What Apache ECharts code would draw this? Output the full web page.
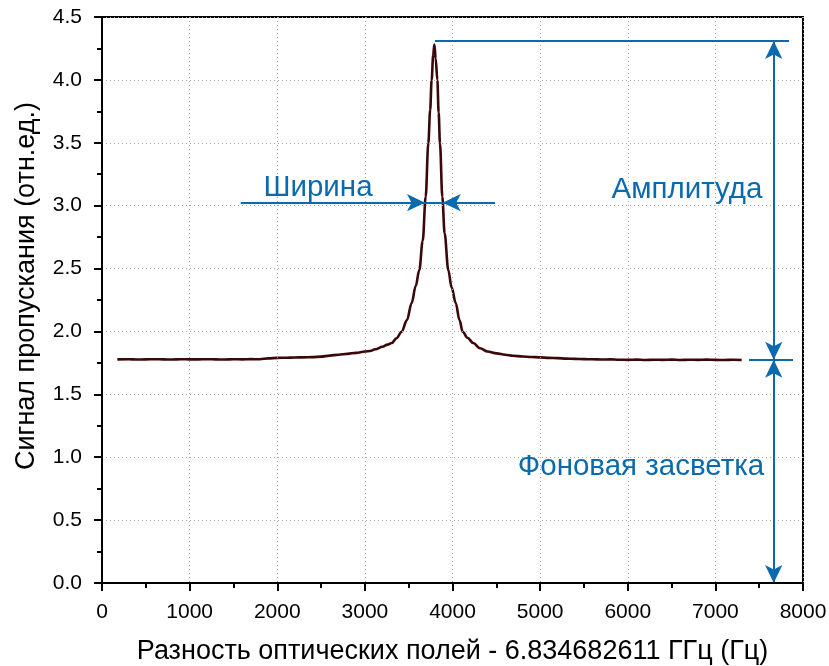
<!DOCTYPE html>
<html>
<head>
<meta charset="utf-8">
<script src="https://cdn.jsdelivr.net/npm/echarts@6/dist/echarts.min.js"></script>
<style>
html,body{margin:0;padding:0;background:#fff;}
#chart{width:829px;height:666px;}
</style>
</head>
<body>
<div id="chart"></div>
<script>
// Frequency offset (Hz) and transmission signal (arb. units)
const freqHz = [175,300,400,500,600,700,800,900,1000,1100,1200,1300,1400,1500,1600,1700,1800,1900,2000,2100,2200,2300,2400,2500,2600,2700,2800,2900,3000,3060,3120,3200,3260,3306,3360,3420,3480,3534,3580,3621,3660,3694,3724,3745,3762,3780,3793,3808,3827,3842,3857,3884,3910,3952,3990,4037,4080,4116,4170,4237,4314,4400,4504,4600,4690,4800,4900,5000,5100,5200,5300,5400,5500,5600,5700,5800,5900,6000,6100,6200,6300,6400,6500,6600,6700,6800,6900,7000,7100,7200,7300];
const signal = [1.778,1.779,1.777,1.778,1.779,1.778,1.777,1.779,1.778,1.778,1.779,1.778,1.777,1.779,1.778,1.780,1.779,1.786,1.790,1.791,1.793,1.794,1.796,1.800,1.808,1.815,1.822,1.830,1.840,1.845,1.858,1.878,1.895,1.908,1.945,1.998,2.090,2.226,2.360,2.488,2.720,3.071,3.496,3.760,4.000,4.200,4.280,4.170,4.000,3.740,3.496,3.071,2.780,2.488,2.350,2.226,2.090,1.998,1.950,1.908,1.866,1.840,1.826,1.815,1.807,1.801,1.797,1.794,1.790,1.788,1.784,1.782,1.780,1.779,1.777,1.778,1.775,1.774,1.776,1.773,1.775,1.774,1.776,1.773,1.775,1.774,1.776,1.774,1.773,1.775,1.773];

// Annotation geometry in data units
const amplitudeTopLine = [[3800, 4.31], [7840, 4.31]];
const backgroundLine = [[7384, 1.775], [7886, 1.775]];
const amplitudeArrow = [[7666, 4.31], [7666, 1.775]];
const backgroundArrow = [[7666, 1.775], [7666, 0]];
const widthLine = [[1583, 3.024], [4485, 3.024]];
const widthTips = [3686, 3888];
const annotationTexts = ['Ширина', 'Амплитуда', 'Фоновая засветка'];
const annotationPos = [[2465, 3.14], [6676, 3.125], [6151, 0.922]];

const blue = '#0b6aad';
const font = '"Liberation Sans", Arial, sans-serif';

const data = freqHz.map((f, i) => [f, signal[i]]);
const arrowSize = [13, 18];

function seg(a, b, endSym) {
  return [
    { coord: a, symbol: 'none' },
    { coord: b, symbol: endSym || 'none', symbolSize: arrowSize }
  ];
}
function dblArrow(a, b) {
  return [
    { coord: a, symbol: 'arrow', symbolSize: arrowSize },
    { coord: b, symbol: 'arrow', symbolSize: arrowSize }
  ];
}

const frameAxis = {
  axisLine: { show: true, onZero: false, lineStyle: { color: '#000', width: 2 } },
  axisTick: { show: false }, axisLabel: { show: false }, splitLine: { show: false }
};

const chart = echarts.init(document.getElementById('chart'), null, { renderer: 'canvas' });
chart.setOption({
  animation: false,
  backgroundColor: '#fff',
  grid: { left: 102, right: 26, top: 17, bottom: 83, containLabel: false, outerBoundsMode: 'none' },
  xAxis: [{
    type: 'value', min: 0, max: 8000, interval: 1000,
    name: 'Разность оптических полей - 6.834682611 ГГц (Гц)',
    nameLocation: 'middle', nameGap: 55,
    nameTextStyle: { fontFamily: font, fontSize: 27, color: '#000' },
    axisLine: { onZero: false, lineStyle: { color: '#000', width: 2 } },
    axisTick: { show: true, inside: false, length: 8, lineStyle: { color: '#000', width: 2 } },
    minorTick: { show: true, splitNumber: 2, length: 5, lineStyle: { color: '#000', width: 2 } },
    axisLabel: { fontFamily: font, fontSize: 21, color: '#000', margin: 19,
      formatter: v => String(v) },
    splitLine: { show: true, lineStyle: { color: '#aaa', width: 1, type: [1, 3] } },
    z: 5
  }, Object.assign({ type: 'value', min: 0, max: 8000, position: 'top' }, frameAxis)],
  yAxis: [{
    type: 'value', min: 0, max: 4.5, interval: 0.5,
    name: 'Сигнал пропускания (отн.ед.)',
    nameLocation: 'middle', nameGap: 62,
    nameTextStyle: { fontFamily: font, fontSize: 27, color: '#000', padding: [0, 0, 0, 28] },
    axisLine: { onZero: false, lineStyle: { color: '#000', width: 2 } },
    axisTick: { show: true, inside: false, length: 8, lineStyle: { color: '#000', width: 2 } },
    minorTick: { show: true, splitNumber: 2, length: 5, lineStyle: { color: '#000', width: 2 } },
    axisLabel: { fontFamily: font, fontSize: 21, color: '#000', margin: 20,
      formatter: v => v.toFixed(1) },
    splitLine: { show: true, lineStyle: { color: '#aaa', width: 1, type: [1, 3] } },
    z: 5
  }, Object.assign({ type: 'value', min: 0, max: 4.5, position: 'right' }, frameAxis)],
  series: [
    {
      type: 'line',
      data: data,
      showSymbol: false,
      symbol: 'none',
      smooth: 0.35,
      smoothMonotone: 'x',
      lineStyle: { color: '#3a0808', width: 2.6 },
      z: 3
    },
    {
      type: 'line',
      data: [],
      z: 4,
      markLine: {
        silent: true,
        animation: false,
        label: { show: false },
        lineStyle: { color: blue, width: 2, type: 'solid' },
        emphasis: { disabled: true },
        data: [
          seg(amplitudeTopLine[0], amplitudeTopLine[1]),
          seg(backgroundLine[0], backgroundLine[1]),
          dblArrow(amplitudeArrow[0], amplitudeArrow[1]),
          dblArrow(backgroundArrow[0], backgroundArrow[1]),
          seg(widthLine[0], [widthTips[0], widthLine[0][1]], 'arrow'),
          seg(widthLine[1], [widthTips[1], widthLine[1][1]], 'arrow'),
          seg([widthTips[0], widthLine[0][1]], [widthTips[1], widthLine[0][1]])
        ]
      },
      markPoint: {
        silent: true,
        animation: false,
        symbol: 'circle',
        symbolSize: 0,
        itemStyle: { color: 'transparent' },
        label: { show: true, position: 'inside', color: blue, fontFamily: font, fontSize: 29.5 },
        data: annotationTexts.map((t, i) => ({
          coord: annotationPos[i],
          value: t,
          label: { formatter: t }
        }))
      }
    }
  ]
});
</script>
</body>
</html>
